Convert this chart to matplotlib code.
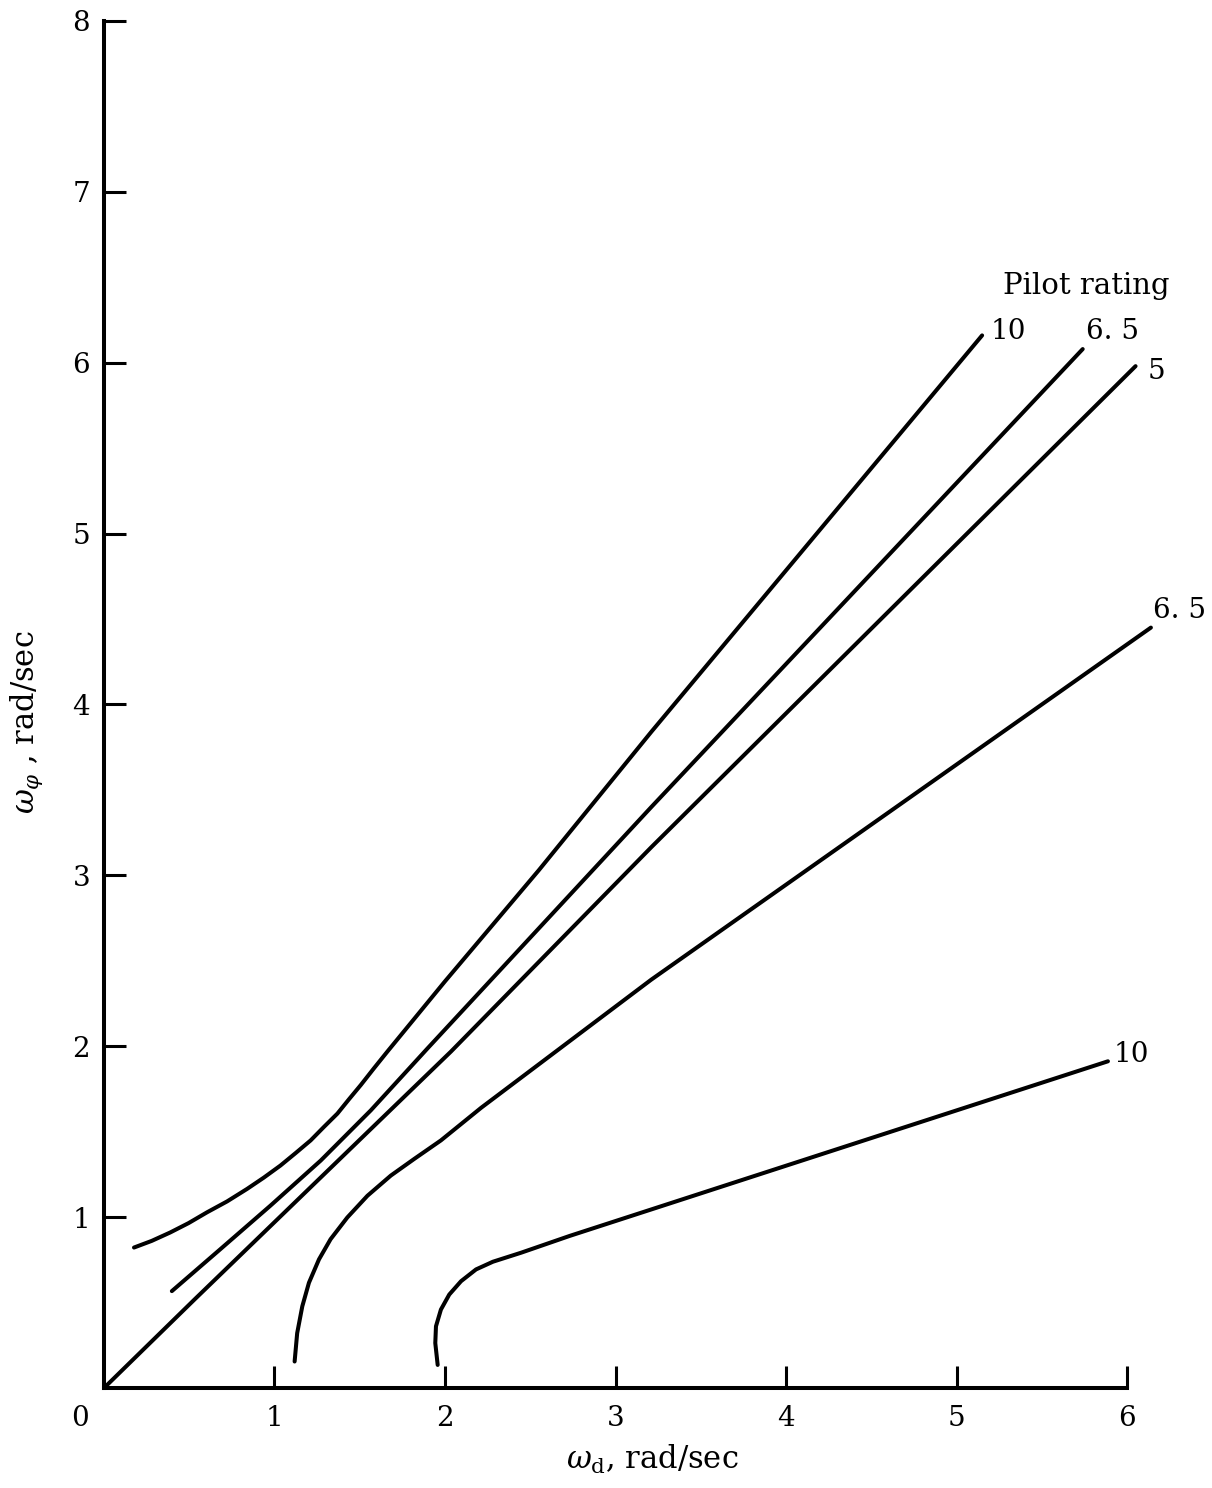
import matplotlib
matplotlib.use("Agg")
from matplotlib import pyplot as plt

plt.rcParams['font.family'] = 'DejaVu Serif'
plt.rcParams['mathtext.fontset'] = 'dejavuserif'

# boundary curves, roll frequency vs dutch roll frequency
x_10_upper = [0.176, 0.28, 0.388, 0.496, 0.604, 0.722, 0.839, 0.937, 1.035, 1.124, 1.212,
              1.29, 1.369, 1.437, 1.506, 1.584, 1.663, 2.00, 2.55, 3.21, 5.15]
y_10_upper = [0.822, 0.861, 0.910, 0.965, 1.028, 1.092, 1.165, 1.231, 1.302, 1.375, 1.449,
              1.528, 1.606, 1.690, 1.773, 1.872, 1.970, 2.38, 3.03, 3.84, 6.16]

x_65_upper = [0.398, 0.682, 0.976, 1.271, 1.565, 1.898, 3.21, 5.74]
y_65_upper = [0.567, 0.812, 1.067, 1.331, 1.625, 1.988, 3.40, 6.08]

x_5 = [0.0, 0.535, 2.035, 3.21, 6.05]
y_5 = [0.0, 0.522, 1.969, 3.165, 5.98]

x_65_lower = [1.118, 1.133, 1.163, 1.202, 1.261, 1.329, 1.427, 1.545, 1.682, 1.820, 1.976,
              2.212, 3.21, 6.14]
y_65_lower = [0.155, 0.321, 0.478, 0.616, 0.753, 0.871, 0.998, 1.125, 1.243, 1.341, 1.449,
              1.640, 2.39, 4.45]

x_10_lower = [1.957, 1.943, 1.947, 1.976, 2.025, 2.094, 2.182, 2.281, 2.447, 2.731, 5.888]
y_10_lower = [0.135, 0.263, 0.361, 0.459, 0.547, 0.625, 0.694, 0.739, 0.792, 0.890, 1.912]

ratings = ["10", "6. 5", "5", "6. 5", "10"]
label_x = [5.20, 5.76, 6.12, 6.15, 5.92]
label_y = [6.18, 6.18, 5.95, 4.55, 1.95]

fig = plt.figure(figsize=(12.12, 14.88), dpi=100)
ax = fig.add_axes([0.0858, 0.0672, 0.8441, 0.9187])

curves = [(x_10_upper, y_10_upper), (x_65_upper, y_65_upper), (x_5, y_5),
          (x_65_lower, y_65_lower), (x_10_lower, y_10_lower)]
for cx, cy in curves:
    ax.plot(cx, cy, color='black', linewidth=2.9, solid_capstyle='round',
            solid_joinstyle='round', clip_on=False)

for txt, lx, ly in zip(ratings, label_x, label_y):
    ax.text(lx, ly, txt, fontsize=20, ha='left', va='center')

ax.text(5.76, 6.45, "Pilot rating", fontsize=21, ha='center', va='center')

ax.set_xlim(0, 6)
ax.set_ylim(0, 8)
ax.spines['top'].set_visible(False)
ax.spines['right'].set_visible(False)
for side in ['left', 'bottom']:
    ax.spines[side].set_linewidth(2.9)

ax.set_xticks([1, 2, 3, 4, 5, 6])
ax.set_yticks([1, 2, 3, 4, 5, 6, 7, 8])
ax.tick_params(axis='both', direction='in', length=16, width=2.2, labelsize=20)
ax.tick_params(axis='x', pad=12)
ax.tick_params(axis='y', pad=10)

# shared zero at the corner
ax.annotate("0", xy=(0, 0), xytext=(-24, -30), textcoords='offset pixels',
            fontsize=20, ha='center', va='center')

ax.set_xlabel(r"$\omega_{\mathrm{d}}$, rad/sec", fontsize=22)
ax.xaxis.set_label_coords(0.536, -0.040)
ax.set_ylabel(r"$\omega_{\varphi}$ , rad/sec", fontsize=22)
ax.yaxis.set_label_coords(-0.058, 0.487)

fig.savefig("out.png", dpi=100)
